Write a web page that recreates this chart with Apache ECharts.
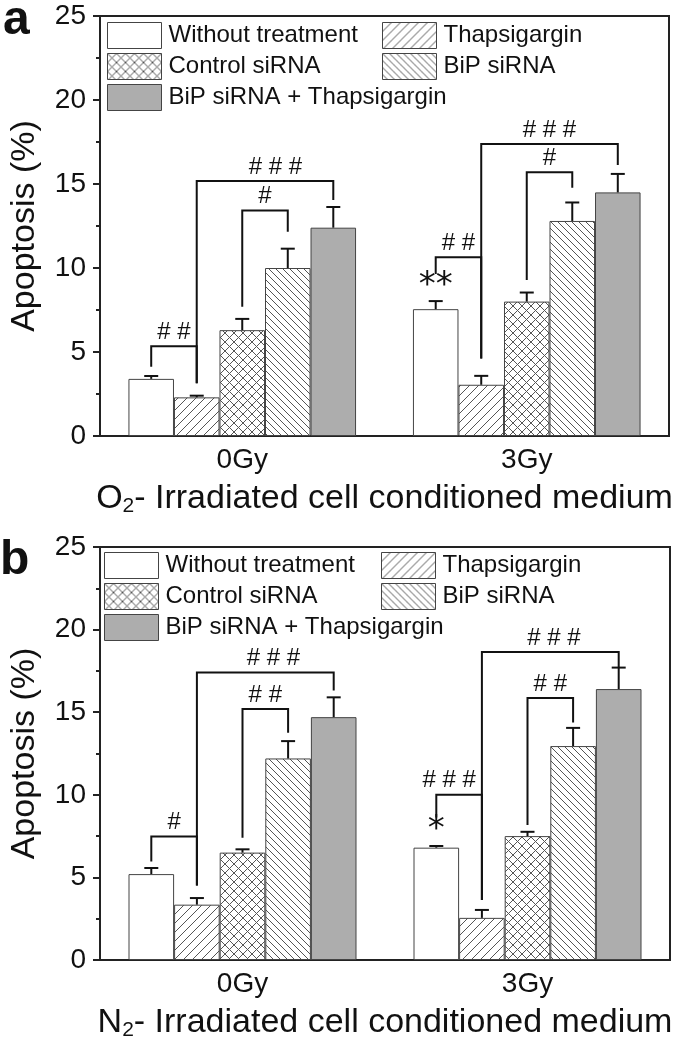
<!DOCTYPE html>
<html>
<head>
<meta charset="utf-8">
<script src="https://cdn.jsdelivr.net/npm/echarts@6/dist/echarts.min.js"></script>
<style>
  html, body { margin: 0; padding: 0; background: #fff; }
  #chart { width: 675px; height: 1042px; }
</style>
</head>
<body>
<div id="chart"></div>
<script>
// categories and groups
var categories = ['0Gy', '3Gy'];
var groupNames = ['Without treatment', 'Thapsigargin', 'Control siRNA', 'BiP siRNA', 'BiP siRNA + Thapsigargin'];
var yTicks = [0, 5, 10, 15, 20, 25];

// panel a: O2 irradiated medium, one row per group [0Gy, 3Gy]
var o2Mean = [[3.4, 7.55], [2.3, 3.05], [6.3, 8.0], [10.0, 12.8], [12.4, 14.5]];
var o2Err = [[0.17, 0.48], [0.1, 0.53], [0.67, 0.54], [1.15, 1.1], [1.23, 1.1]];
// panel b: N2 irradiated medium
var n2Mean = [[5.2, 6.8], [3.35, 2.55], [6.5, 7.5], [12.2, 12.95], [14.7, 16.4]];
var n2Err = [[0.37, 0.1], [0.4, 0.48], [0.2, 0.26], [1.05, 1.1], [1.2, 1.3]];

// brackets: [category, fromBar, toBar, leftLow, top, rightLow, textAt]
var o2Brackets = [
  [0, 0, 1, 4.12, 5.34, 3.14, 0.5],
  [0, 1, 4, 3.14, 15.18, 14.05, 2.73],
  [0, 2, 3, 7.7, 13.43, 12.16, 2.5],
  [1, 0, 1, 9.64, 10.64, 4.62, 0.5],
  [1, 1, 4, 4.62, 17.38, 16.13, 2.5],
  [1, 2, 3, 9.29, 15.7, 14.78, 2.5]
];
var o2BracketText = ['# #', '# # #', '#', '# #', '# # #', '#'];
var n2Brackets = [
  [0, 0, 1, 5.96, 7.47, 4.51, 0.5],
  [0, 1, 4, 4.51, 17.4, 16.31, 2.68],
  [0, 2, 3, 7.4, 15.19, 13.75, 2.5],
  [1, 0, 1, 8.62, 10.0, 3.63, 0.28],
  [1, 1, 4, 3.63, 18.64, 17.74, 2.58],
  [1, 2, 3, 8.17, 15.86, 14.38, 2.5]
];
var n2BracketText = ['#', '# # #', '# #', '# # #', '# # #', '# #'];
// stars: [category, bar, value]
var o2Stars = [[1, 0, 8.9]];
var o2StarText = ['**'];
var n2Stars = [[1, 0, 7.85]];
var n2StarText = ['*'];

var FONT = 'Liberation Sans';

function hatch(size, dirs) {
  var c = document.createElement('canvas');
  c.width = c.height = size;
  var g = c.getContext('2d');
  g.fillStyle = '#fff';
  g.fillRect(0, 0, size, size);
  g.strokeStyle = '#555';
  g.lineWidth = 1;
  dirs.forEach(function (d) {
    for (var o = -size; o <= size; o += size) {
      g.beginPath();
      if (d === '/') { g.moveTo(o, size); g.lineTo(o + size, 0); }
      else { g.moveTo(o, 0); g.lineTo(o + size, size); }
      g.stroke();
    }
  });
  return { image: c, repeat: 'repeat' };
}

var fills = ['#fff', hatch(9, ['/']), hatch(9, ['/', '\\']), hatch(7, ['\\']), '#adadad'];

var chart = echarts.init(document.getElementById('chart'));

function slotX(api, cat, k) {
  var cx = api.coord([cat, 0])[0];
  var bw = api.size([1, 0])[0] * 0.8 / 5;
  return cx + (k - 2) * bw;
}

function barSeries(means, ax) {
  return groupNames.map(function (name, i) {
    return {
      name: name, type: 'bar', xAxisIndex: ax, yAxisIndex: ax,
      data: means[i], barGap: 0, barCategoryGap: '20%',
      itemStyle: { color: fills[i], borderColor: '#444', borderWidth: 1 },
      emphasis: { disabled: true }
    };
  });
}

function errSeries(means, errs, ax) {
  var data = [];
  for (var i = 0; i < groupNames.length; i++) {
    for (var c = 0; c < categories.length; c++) data.push([c, i, means[i][c], errs[i][c]]);
  }
  return {
    type: 'custom', xAxisIndex: ax, yAxisIndex: ax, data: data, z: 5,
    encode: { x: 0, y: 2 }, silent: true,
    renderItem: function (params, api) {
      var x = slotX(api, api.value(0), api.value(1));
      var y0 = api.coord([0, api.value(2)])[1];
      var y1 = api.coord([0, api.value(2) + api.value(3)])[1];
      return { type: 'group', children: [
        { type: 'line', shape: { x1: x, y1: y0, x2: x, y2: y1 }, style: { stroke: '#111', lineWidth: 2 } },
        { type: 'line', shape: { x1: x - 7, y1: y1, x2: x + 7, y2: y1 }, style: { stroke: '#111', lineWidth: 2 } }
      ] };
    }
  };
}

function bracketSeries(list, texts, ax) {
  return {
    type: 'custom', xAxisIndex: ax, yAxisIndex: ax, data: list, z: 6,
    encode: { x: 0, y: 4 }, silent: true, clip: false,
    renderItem: function (params, api) {
      var cat = api.value(0);
      var xa = slotX(api, cat, api.value(1));
      var xb = slotX(api, cat, api.value(2));
      var yl = api.coord([0, api.value(3)])[1];
      var yt = api.coord([0, api.value(4)])[1];
      var yr = api.coord([0, api.value(5)])[1];
      var xt = slotX(api, cat, api.value(6));
      return { type: 'group', children: [
        { type: 'polyline', shape: { points: [[xa, yl], [xa, yt], [xb, yt], [xb, yr]] },
          style: { stroke: '#111', lineWidth: 2, fill: null } },
        { type: 'text', x: xt, y: yt - 2,
          style: { text: texts[params.dataIndex], font: '24px "' + FONT + '"', fill: '#111',
                   align: 'center', verticalAlign: 'bottom' } }
      ] };
    }
  };
}

function starSeries(list, texts, ax) {
  return {
    type: 'custom', xAxisIndex: ax, yAxisIndex: ax, data: list, z: 6,
    encode: { x: 0, y: 2 }, silent: true,
    renderItem: function (params, api) {
      var x = slotX(api, api.value(0), api.value(1));
      var y = api.coord([0, api.value(2)])[1];
      return { type: 'text', x: x, y: y,
        style: { text: texts[params.dataIndex], font: '34px "DejaVu Sans"', fill: '#111',
                 align: 'center', verticalAlign: 'middle' } };
    }
  };
}

function xAxis(idx, gas) {
  return {
    type: 'category', gridIndex: idx, data: categories,
    axisLine: { lineStyle: { color: '#222', width: 2 } },
    axisTick: { alignWithLabel: true, length: 8, lineStyle: { color: '#222', width: 2 } },
    axisLabel: { fontFamily: FONT, fontSize: 28, color: '#111', margin: 10 },
    name: '{n|' + gas + '}{s|2}{n|- Irradiated cell conditioned medium}',
    nameLocation: 'middle', nameGap: 45,
    nameTextStyle: {
      rich: {
        n: { fontFamily: FONT, fontSize: 34, color: '#111', lineHeight: 36 },
        s: { fontFamily: FONT, fontSize: 21, color: '#111', verticalAlign: 'bottom', lineHeight: 20 }
      }
    }
  };
}

function yAxis(idx) {
  return {
    type: 'value', gridIndex: idx, min: yTicks[0], max: yTicks[yTicks.length - 1], interval: 5,
    axisLine: { show: true, lineStyle: { color: '#222', width: 2 } },
    axisTick: { show: true, length: 7, lineStyle: { color: '#222', width: 2 } },
    minorTick: { show: true, splitNumber: 2, length: 4, lineStyle: { color: '#222', width: 2 } },
    splitLine: { show: false },
    axisLabel: { fontFamily: FONT, fontSize: 28, color: '#111', margin: 14 },
    name: 'Apoptosis (%)', nameLocation: 'middle', nameGap: 58,
    nameTextStyle: { fontFamily: FONT, fontSize: 34, color: '#111' }
  };
}

function legend(top, left, names) {
  return {
    data: names, orient: 'vertical', top: top, left: left, padding: 0, itemGap: 4,
    itemWidth: 54, itemHeight: 26, selectedMode: false, icon: 'rect',
    itemStyle: { borderColor: '#444', borderWidth: 1 },
    textStyle: { fontFamily: FONT, fontSize: 24, lineHeight: 26, color: '#111', padding: [0, 0, 0, 2] }
  };
}

var leftNames = [groupNames[0], groupNames[2], groupNames[4]];
var rightNames = [groupNames[1], groupNames[3]];

var option = {
  animation: false,
  backgroundColor: '#fff',
  grid: [
    { left: 99, top: 16, width: 570, height: 420, show: true, borderColor: '#222', borderWidth: 2 },
    { left: 97, top: 547, width: 573, height: 422, show: true, borderColor: '#222', borderWidth: 2 }
  ],
  xAxis: [xAxis(0, 'O'), xAxis(1, 'N')],
  yAxis: [yAxis(0), yAxis(1)],
  legend: [
    legend(22, 107, leftNames), legend(22, 382, rightNames),
    legend(552, 104, leftNames), legend(552, 381, rightNames)
  ],
  graphic: [
    { type: 'text', left: 3, top: -3, style: { text: 'a', font: 'bold 48px "' + FONT + '"', fill: '#111' } },
    { type: 'text', left: 0, top: 537, style: { text: 'b', font: 'bold 48px "' + FONT + '"', fill: '#111' } }
  ],
  series: [].concat(
    barSeries(o2Mean, 0), barSeries(n2Mean, 1),
    [errSeries(o2Mean, o2Err, 0), errSeries(n2Mean, n2Err, 1),
     bracketSeries(o2Brackets, o2BracketText, 0), bracketSeries(n2Brackets, n2BracketText, 1),
     starSeries(o2Stars, o2StarText, 0), starSeries(n2Stars, n2StarText, 1)]
  )
};

chart.setOption(option);
</script>
</body>
</html>
